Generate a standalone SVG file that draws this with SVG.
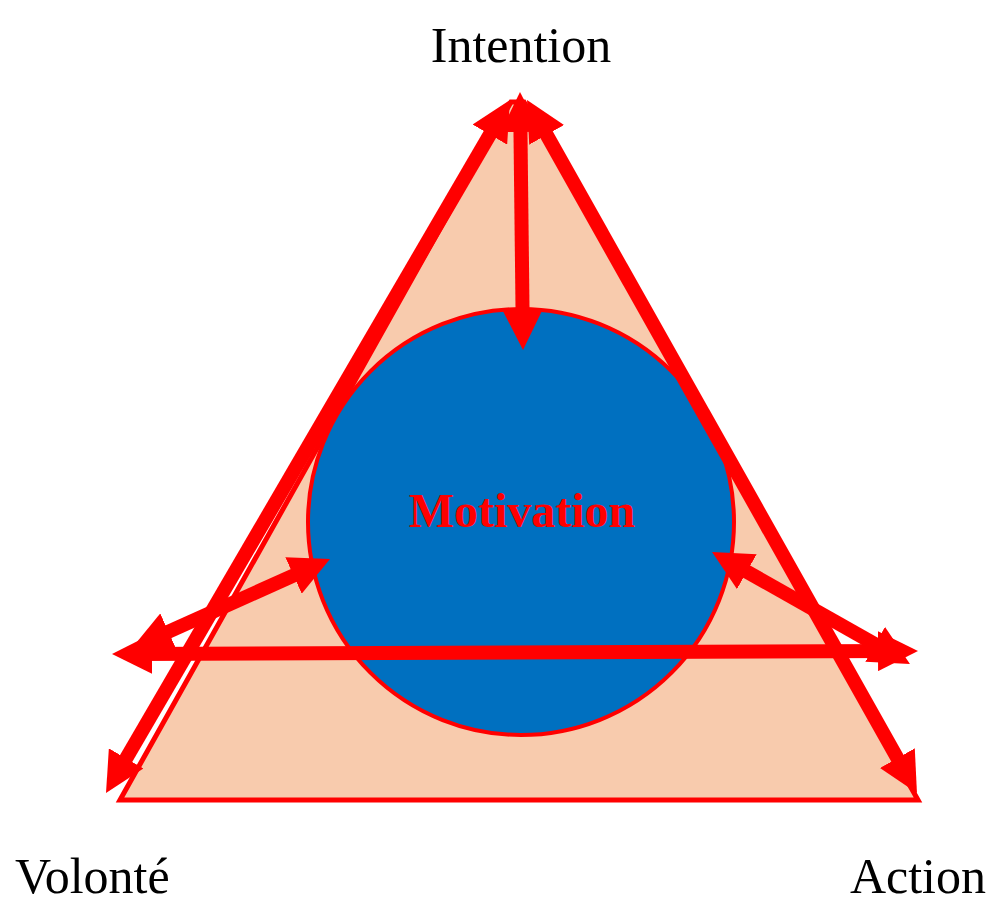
<svg xmlns="http://www.w3.org/2000/svg" width="1000" height="914" viewBox="0 0 1000 914">
<style>
.lbl{font-family:"Liberation Serif","Times New Roman",serif;font-size:50px;fill:#000}
.mot{font-family:"Liberation Serif","Times New Roman",serif;font-size:48px;font-weight:bold;fill:#FF0000}
.arr{stroke:#FF0000;stroke-width:14;fill:none;marker-start:url(#ah);marker-end:url(#ah)}
</style>
<defs>
<marker id="ah" markerUnits="userSpaceOnUse" viewBox="0 0 40 40" markerWidth="40" markerHeight="40" refX="15" refY="20" orient="auto-start-reverse">
<path d="M0,0 L40,20 L0,40 z" fill="#FF0000"/>
</marker>
</defs>
<rect width="1000" height="914" fill="#fff"/>
<g id="triangle">
<polygon points="120,800 511,102 524,102 918,800" fill="#F8CBAD" stroke="#FF0000" stroke-width="5" stroke-linejoin="miter"/>
</g>
<g id="motivation">
<circle cx="521" cy="522" r="213" fill="#0070C0" stroke="#FF0000" stroke-width="4"/>
<text class="mot" x="522" y="527" text-anchor="middle">Motivation</text>
</g>
<g id="connectors">
<line class="arr" x1="520.3" y1="117" x2="522.7" y2="325"/>
<line class="arr" x1="137" y1="653.9" x2="893" y2="651.1"/>
<line class="arr" x1="307.2" y1="569.3" x2="154.8" y2="637.8"/>
<line class="arr" x1="733.8" y1="564.3" x2="888.2" y2="651.7"/>
<line class="arr" x1="497.4" y1="121.6" x2="118.6" y2="771.4"/>
<line class="arr" x1="539.3" y1="121.8" x2="904.7" y2="771.2"/>
</g>
<g id="intention"><text class="lbl" x="521" y="62" text-anchor="middle">Intention</text></g>
<g id="volonte"><text class="lbl" x="15" y="893">Volonté</text></g>
<g id="action"><text class="lbl" x="986" y="893" text-anchor="end">Action</text></g>
</svg>
